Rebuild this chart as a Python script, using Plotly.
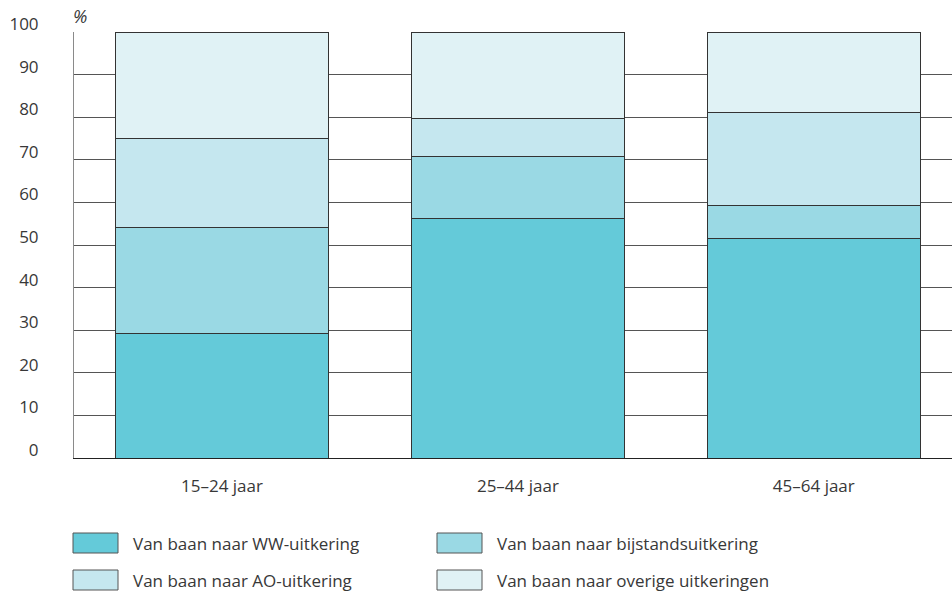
import plotly.graph_objects as go

# Age groups and share of each benefit transition (%)
categories = ["15–24 jaar", "25–44 jaar", "45–64 jaar"]
series_names = [
    "Van baan naar WW-uitkering",
    "Van baan naar bijstandsuitkering",
    "Van baan naar AO-uitkering",
    "Van baan naar overige uitkeringen",
]
ww = [29.2, 56.3, 51.6]
bijstand = [24.9, 14.5, 7.7]
ao = [20.9, 8.8, 21.9]
overige = [25.0, 20.4, 18.8]
y_ticks = [0, 10, 20, 30, 40, 50, 60, 70, 80, 90, 100]

colors = ["#64cad9", "#9ad9e4", "#c5e7ef", "#e0f2f5"]
values = [ww, bijstand, ao, overige]

FONT = "Open Sans"
TEXT = "#383838"

fig = go.Figure()
for name, vals, col in zip(series_names, values, colors):
    fig.add_trace(go.Bar(
        x=categories, y=vals, name=name,
        marker=dict(color=col, line=dict(color="#333333", width=1)),
        width=0.72, showlegend=False,
    ))

fig.update_layout(
    barmode="stack",
    width=952, height=597,
    margin=dict(l=74, r=0, t=32, b=139),
    plot_bgcolor="white", paper_bgcolor="white",
    font=dict(family=FONT, size=17, color=TEXT),
    xaxis=dict(
        range=[-0.5, 2.467], showgrid=False,
        showline=True, linecolor="#222222", linewidth=1,
        ticks="", ticklabelstandoff=13,
        tickfont=dict(size=17, color=TEXT),
    ),
    yaxis=dict(
        range=[0, 100], tickvals=y_ticks,
        showgrid=True, gridcolor="#555555", gridwidth=1,
        showline=True, linecolor="#8a8a8a", linewidth=1,
        zeroline=False, ticks="", ticklabelstandoff=31,
        ticklabelshift=-8,
        tickfont=dict(size=17, color=TEXT),
    ),
)

# "%" unit label above the value axis
fig.add_annotation(
    x=0.0, y=1.0, xref="paper", yref="paper", text="<i>%</i>",
    showarrow=False, xanchor="left", yanchor="bottom", xshift=-3, yshift=2,
    font=dict(size=18, color=TEXT),
)

# Legend: two columns, two rows of wide swatches
col_x = [73, 437]
row_y = [533, 570]
W = 952
for i, (name, col) in enumerate(zip(series_names, colors)):
    cx = col_x[i % 2]
    ry = row_y[i // 2]
    fig.add_shape(
        type="rect", xref="paper", yref="paper",
        x0=(cx - 74) / (W - 74), x1=(cx + 45 - 74) / (W - 74),
        y0=(458 - ry) / 426, y1=(458 - ry - 20) / 426,
        fillcolor=col, line=dict(color="#555555", width=1),
    )
    fig.add_annotation(
        xref="paper", yref="paper",
        x=(cx + 58 - 74) / (W - 74), y=(458 - ry - 10) / 426,
        text=name, showarrow=False, xanchor="left", yanchor="middle",
        font=dict(size=17, color=TEXT),
    )

fig.write_html("out.html")
